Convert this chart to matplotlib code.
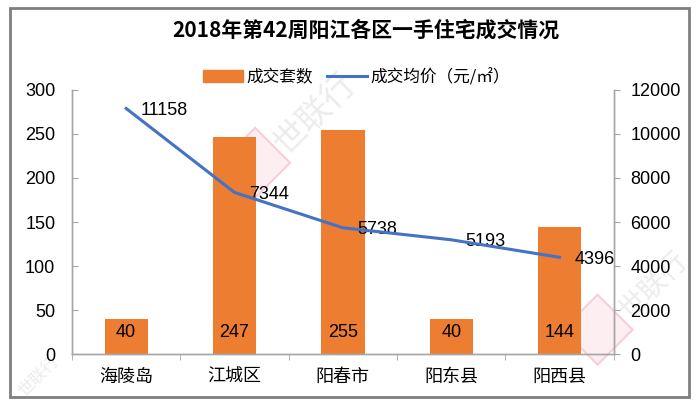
import numpy as np
import matplotlib
matplotlib.use('Agg')
import matplotlib.pyplot as plt
from matplotlib.patches import Rectangle, Polygon
from matplotlib.lines import Line2D
from matplotlib.patches import Patch

plt.rcParams['font.family'] = ['Liberation Sans', 'Noto Sans CJK SC', 'DejaVu Sans']
cjk = ['Noto Sans CJK SC', 'DejaVu Sans']

# data
districts = ['海陵岛', '江城区', '阳春市', '阳东县', '阳西县']
units = [40, 247, 255, 40, 144]
price = [11158, 7344, 5738, 5193, 4396]

orange = '#ED7D31'
blue = '#4472C4'
grey = '#A6A6A6'

fig = plt.figure(figsize=(6.99, 4.07), dpi=100)

# faint watermarks behind everything
for (cx, cy) in [(0.365, 0.60), (0.855, 0.19)]:
    d = 0.05
    fig.patches.append(Polygon([(cx - d, cy), (cx, cy + d * 1.72), (cx + d, cy), (cx, cy - d * 1.72)],
                               closed=True, transform=fig.transFigure, facecolor='#fdeef2',
                               edgecolor='#f6cfdb', linewidth=1.5, zorder=-5))
for (wx, wy, fs) in [(0.45, 0.72, 24), (0.935, 0.30, 20), (0.055, 0.075, 12)]:
    fig.text(wx, wy, '世联行', rotation=45, ha='center', va='center', fontsize=fs,
             color='#ececec', fontfamily=cjk, zorder=-4)

ax = fig.add_axes([0.103, 0.130, 0.775, 0.649])
ax2 = ax.twinx()

x = np.arange(len(districts))
ax.bar(x, units, width=0.40, color=orange, zorder=2)
for xi, v in zip(x, units):
    ax.text(xi, 24, str(v), ha='center', va='center', fontsize=13, color='#000000', zorder=3)

ax2.plot(x, price, color=blue, linewidth=2.2, zorder=4)
for xi, v in zip(x, price):
    ax2.annotate(str(v), (xi, v), xytext=(10.5, -1.5), textcoords='offset points',
                 ha='left', va='center', fontsize=13, color='#000000')

ax.set_xlim(-0.5, len(districts) - 0.5)
ax.set_ylim(0, 300)
ax.set_yticks(np.arange(0, 301, 50))
ax2.set_ylim(0, 12000)
ax2.set_yticks(np.arange(0, 12001, 2000))

ax.set_xticks(x)
ax.set_xticklabels(districts, fontfamily=cjk, fontsize=13)
ax.set_xticks(np.arange(-0.5, len(districts), 1), minor=True)
ax.tick_params(axis='x', which='major', length=0, pad=10)
ax.tick_params(axis='x', which='minor', length=4, color=grey, direction='out')
ax.tick_params(axis='y', length=4, color=grey, direction='in', labelsize=13, pad=12)
ax2.tick_params(axis='y', length=4, color=grey, direction='out', labelsize=13, pad=8)

for a in (ax, ax2):
    a.spines['top'].set_visible(False)
    for s in ('left', 'right', 'bottom'):
        a.spines[s].set_color(grey)
        a.spines[s].set_linewidth(1)
ax.set_zorder(ax2.get_zorder() - 1)
ax.patch.set_visible(False)
fig.patch.set_facecolor('white')

fig.text(0.523, 0.925, '2018年第42周阳江各区一手住宅成交情况', ha='center', va='center',
         fontsize=15, fontweight='bold', fontfamily=cjk)

handles = [Patch(color=orange), Line2D([0], [0], color=blue, linewidth=2.2)]
fig.legend(handles, ['成交套数', '成交均价（元/㎡）'], loc='center', bbox_to_anchor=(0.51, 0.81),
           ncol=2, frameon=False, prop={'family': cjk, 'size': 12},
           handlelength=2.4, handletextpad=0.2, columnspacing=0.8)

fig.patches.append(Rectangle((0.014, 0.025), 0.971, 0.955, transform=fig.transFigure,
                             fill=False, edgecolor='#7f7f7f', linewidth=2))

fig.savefig('out.png', dpi=100)
